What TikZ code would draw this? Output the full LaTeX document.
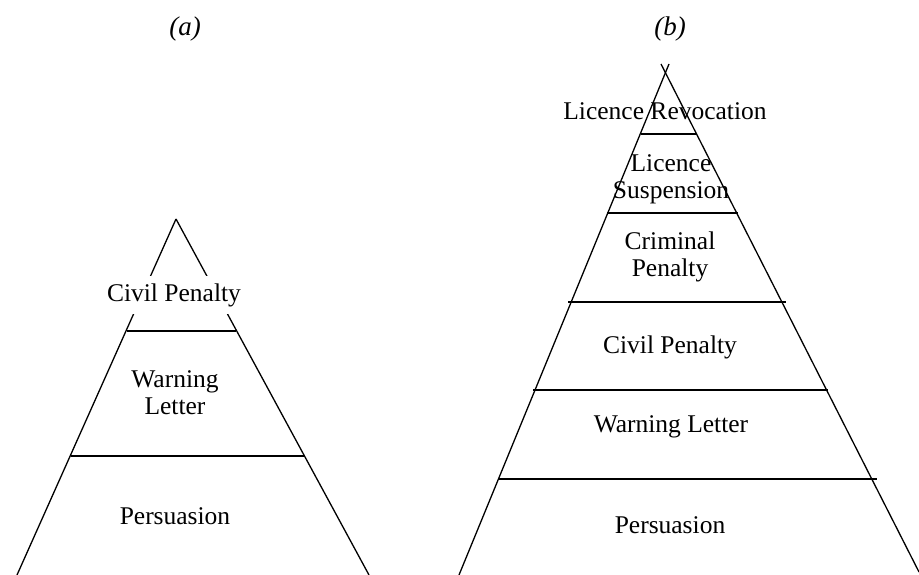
\documentclass[tikz,border=0pt]{standalone}
\usepackage{fontspec}
\setmainfont{Liberation Serif}
\begin{document}
\begin{tikzpicture}[x=1pt,y=-1pt,
  edge/.style={line width=1.3pt,black},
  lbl/.style={font=\fontsize{25.5}{27}\selectfont,align=center,inner sep=0pt},
  ttl/.style={font=\fontsize{27}{30}\selectfont\itshape,inner sep=0pt}]
\useasboundingbox (0,0) rectangle (919,575);
% ---- (a) ----
\coordinate (aA) at (176,219);
\coordinate (aL) at (17,575);
\coordinate (aR) at (369,575);
\draw[edge] (aA) -- (aL);
\draw[edge] (aA) -- (aR);
\draw[edge] (127,331) -- (236,331);
\draw[edge] (71,456) -- (304,456);
\node[lbl,fill=white,minimum height=38pt,inner xsep=2pt] (a1) at (174,295) {Civil Penalty};
\node[lbl] (a2) at (175,393) {Warning\\Letter};
\node[lbl] (a3) at (175,516) {Persuasion};
\node[ttl] (ta) at (185,29) {(a)};
% ---- (b) ----
\coordinate (bL0) at (669,64);
\coordinate (bL1) at (459,575);
\coordinate (bR0) at (661,64);
\coordinate (bR1) at (919,572);
\draw[edge] (bL0) -- (bL1);
\draw[edge] (bR0) -- (bR1);
\draw[edge] (641,134) -- (697,134);
\draw[edge] (607,213) -- (738,213);
\draw[edge] (568,302) -- (786,302);
\draw[edge] (533,390) -- (828,390);
\draw[edge] (499,479) -- (877,479);
\node[lbl] (b1) at (665,111) {Licence Revocation};
\node[lbl] (b2) at (671,179) {Licence\\Suspension};
\node[lbl] (b3) at (670,257) {Criminal\\Penalty};
\node[lbl] (b4) at (670,347) {Civil Penalty};
\node[lbl] (b5) at (671,427) {Warning Letter};
\node[lbl] (b6) at (670,525) {Persuasion};
\node[ttl] (tb) at (670,29) {(b)};
\end{tikzpicture}
\end{document}
